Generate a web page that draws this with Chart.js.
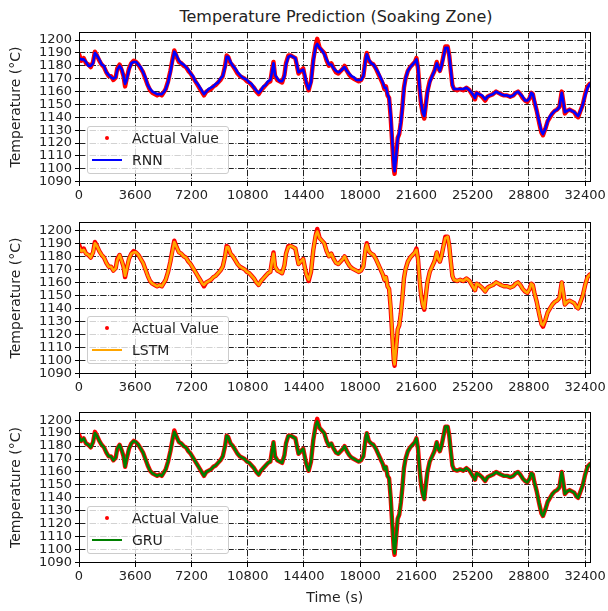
<!DOCTYPE html>
<html>
<head>
<meta charset="utf-8">
<script src="https://cdn.jsdelivr.net/npm/chart.js@4.4.0/dist/chart.umd.min.js"></script>
<style>
  body { margin: 0; background: #fff; width: 608px; height: 611px; position: relative; overflow: hidden; font-family: "DejaVu Sans", sans-serif; }
  canvas { position: absolute; left: 0; }
  #title { position: absolute; top: 7px; left: 79px; width: 514px; text-align: center; font-size: 16px; color: #222; }
  .legend { position: absolute; left: 87px; width: 142px; height: 48px; background: rgba(255,255,255,0.8); border: 1px solid #ccc; border-radius: 3px; box-sizing: border-box; font-size: 14px; color: #222; }
  .legend span { position: absolute; left: 44px; line-height: 16px; }
  .legend .dot { position: absolute; left: 17px; top: 9px; width: 4px; height: 4px; border-radius: 2px; background: #ff0000; }
  .legend .ln { position: absolute; left: 4px; top: 32px; width: 30px; height: 2px; }
</style>
</head>
<body>
<div id="title">Temperature Prediction (Soaking Zone)</div>
<canvas id="rnnChart" width="608" height="206" style="top:0px"></canvas>
<canvas id="lstmChart" width="608" height="198" style="top:200px"></canvas>
<canvas id="gruChart" width="608" height="221" style="top:390px"></canvas>

<div class="legend" style="top:126px"><div class="dot"></div><span style="top:3px">Actual Value</span><div class="ln" style="background:#0000ff"></div><span style="top:25px">RNN</span></div>
<div class="legend" style="top:316px"><div class="dot"></div><span style="top:3px">Actual Value</span><div class="ln" style="background:#ffa500"></div><span style="top:25px">LSTM</span></div>
<div class="legend" style="top:506px"><div class="dot"></div><span style="top:3px">Actual Value</span><div class="ln" style="background:#008000"></div><span style="top:25px">GRU</span></div>

<script>
// time axis (seconds)
const timeSec = [
  0,150,300,450,600,750,900,1020,1150,1300,1450,1600,1750,1900,2050,2200,2350,2450,2600,2750,
  2850,2950,3050,3200,3350,3500,3650,3800,3950,4100,4250,4400,4550,4700,4850,5000,5150,5300,5450,5550,
  5700,5850,6000,6100,6250,6400,6550,6700,6850,7000,7150,7300,7450,7600,7750,7900,8000,8150,8300,8450,
  8600,8750,8900,9050,9200,9350,9450,9550,9700,9850,10000,10150,10300,10450,10600,10750,10900,11050,11200,11350,
  11500,11650,11800,11950,12100,12250,12350,12450,12550,12700,12850,13000,13150,13250,13400,13550,13700,13850,13950,14050,
  14200,14350,14450,14550,14700,14850,15000,15150,15250,15400,15550,15700,15850,16000,16150,16300,16450,16600,16750,16900,
  17000,17150,17300,17450,17600,17750,17900,18050,18200,18350,18420,18550,18700,18850,19000,19150,19300,19450,19550,19650,
  19750,19850,19950,20050,20150,20200,20300,20400,20500,20600,20700,20800,20900,21050,21200,21350,21500,21600,21700,21800,
  21900,22000,22100,22200,22300,22450,22600,22750,22900,23000,23100,23200,23300,23450,23600,23700,23800,23900,24000,24200,
  24400,24600,24800,25000,25200,25350,25450,25600,25800,26000,26150,26300,26500,26700,26850,27000,27200,27400,27600,27800,
  27950,28100,28250,28400,28550,28700,28850,28950,29050,29150,29300,29450,29600,29700,29850,30000,30150,30300,30450,30600,
  30750,30900,31000,31100,31250,31400,31550,31700,31850,31950,32100,32250,32400,32550,32700
];

const actualTemp = [
  1189,1184,1186,1182,1181,1179,1183,1191,1188,1184,1181,1179,1175,1172,1172,1169,1171,1178,1181,1176,
  1172,1164,1170,1178,1182,1184,1183,1181,1178,1175,1170,1165,1161,1159,1158,1157,1158,1157,1160,1162,
  1168,1176,1186,1192,1187,1183,1182,1180,1179,1176,1174,1171,1168,1165,1162,1159,1157,1160,1161,1162,
  1164,1165,1167,1169,1172,1180,1188,1187,1182,1180,1177,1174,1172,1171,1170,1168,1167,1165,1163,1160,
  1158,1161,1163,1165,1167,1168,1176,1183,1172,1169,1168,1167,1173,1182,1188,1188,1187,1186,1180,1174,
  1176,1178,1172,1166,1161,1168,1185,1196,1201,1194,1192,1190,1184,1180,1182,1178,1175,1174,1176,1178,
  1180,1176,1173,1171,1170,1169,1168,1169,1172,1186,1190,1184,1182,1181,1178,1174,1170,1166,1162,1164,
  1157,1155,1140,1120,1100,1096,1110,1124,1127,1136,1148,1163,1170,1176,1179,1181,1183,1186,1178,1162,
  1150,1143,1139,1150,1160,1168,1172,1176,1183,1178,1176,1180,1186,1195,1195,1188,1176,1165,1162,1161,
  1162,1161,1163,1161,1157,1154,1159,1158,1156,1153,1156,1157,1158,1160,1159,1158,1157,1157,1156,1157,
  1159,1160,1158,1155,1153,1152,1155,1159,1158,1152,1145,1136,1128,1126,1131,1137,1140,1143,1145,1146,
  1148,1160,1152,1143,1145,1146,1145,1144,1141,1140,1145,1150,1158,1164,1166
];

const rnnTemp = [
  1186,1185,1185,1183,1180,1180,1182,1190,1188,1185,1181,1180,1175,1173,1171,1170,1171,1177,1180,1177,
  1172,1166,1169,1177,1182,1183,1183,1181,1179,1175,1171,1165,1162,1160,1159,1158,1158,1158,1160,1162,
  1167,1175,1185,1191,1188,1184,1182,1181,1179,1177,1174,1172,1168,1166,1163,1160,1158,1160,1162,1163,
  1164,1166,1167,1170,1172,1179,1187,1187,1183,1180,1178,1175,1173,1171,1170,1169,1167,1166,1163,1161,
  1159,1161,1164,1165,1168,1169,1175,1182,1173,1170,1168,1168,1172,1181,1187,1188,1187,1186,1181,1175,
  1176,1177,1173,1167,1162,1167,1184,1195,1197,1194,1192,1189,1185,1181,1181,1178,1176,1175,1176,1178,
  1179,1176,1174,1172,1171,1169,1169,1169,1172,1185,1189,1185,1182,1181,1178,1175,1171,1167,1163,1163,
  1158,1155,1142,1122,1102,1098,1110,1123,1128,1136,1147,1162,1170,1176,1179,1181,1183,1185,1179,1163,
  1151,1144,1141,1149,1159,1167,1172,1176,1182,1179,1176,1180,1185,1194,1194,1188,1177,1165,1162,1162,
  1162,1162,1163,1161,1158,1155,1159,1158,1157,1154,1156,1157,1158,1160,1159,1158,1157,1157,1156,1157,
  1159,1160,1158,1156,1153,1153,1155,1159,1158,1153,1145,1137,1129,1127,1131,1137,1141,1143,1145,1146,
  1148,1159,1152,1144,1145,1146,1145,1144,1142,1141,1145,1150,1157,1163,1166
];

const lstmTemp = [
  1187,1184,1185,1182,1181,1179,1183,1190,1188,1184,1181,1179,1175,1172,1172,1169,1171,1177,1181,1176,
  1172,1165,1170,1178,1182,1183,1183,1181,1178,1175,1170,1165,1161,1159,1158,1157,1158,1157,1160,1162,
  1168,1176,1185,1191,1187,1183,1182,1180,1179,1176,1174,1171,1168,1165,1162,1159,1158,1160,1161,1162,
  1164,1165,1167,1169,1172,1180,1187,1187,1182,1180,1177,1174,1172,1171,1170,1168,1167,1165,1163,1160,
  1158,1161,1163,1165,1167,1168,1176,1182,1172,1169,1168,1167,1173,1182,1187,1188,1187,1186,1180,1174,
  1176,1178,1172,1166,1162,1168,1185,1196,1199,1194,1192,1190,1184,1180,1182,1178,1175,1174,1176,1178,
  1180,1176,1173,1171,1170,1169,1168,1169,1172,1186,1189,1184,1182,1181,1178,1174,1170,1166,1162,1164,
  1157,1155,1141,1121,1101,1097,1110,1124,1127,1136,1148,1163,1170,1176,1179,1181,1183,1185,1178,1162,
  1150,1143,1140,1150,1160,1168,1172,1176,1183,1178,1176,1180,1186,1194,1195,1188,1176,1165,1162,1161,
  1162,1161,1163,1161,1157,1154,1159,1158,1156,1153,1156,1157,1158,1160,1159,1158,1157,1157,1156,1157,
  1159,1160,1158,1155,1153,1152,1155,1159,1158,1152,1145,1136,1128,1127,1131,1137,1140,1143,1145,1146,
  1148,1160,1152,1143,1145,1146,1145,1144,1141,1140,1145,1150,1158,1164,1166
];

const gruTemp = [
  1187,1184,1186,1182,1181,1179,1183,1190,1188,1184,1181,1179,1175,1172,1172,1169,1171,1178,1181,1176,
  1172,1164,1170,1178,1182,1184,1183,1181,1178,1175,1170,1165,1161,1159,1158,1157,1158,1157,1160,1162,
  1168,1176,1186,1191,1187,1183,1182,1180,1179,1176,1174,1171,1168,1165,1162,1159,1157,1160,1161,1162,
  1164,1165,1167,1169,1172,1180,1188,1187,1182,1180,1177,1174,1172,1171,1170,1168,1167,1165,1163,1160,
  1158,1161,1163,1165,1167,1168,1176,1183,1172,1169,1168,1167,1173,1182,1188,1188,1187,1186,1180,1174,
  1176,1178,1172,1166,1161,1168,1185,1196,1199,1194,1192,1190,1184,1180,1182,1178,1175,1174,1176,1178,
  1180,1176,1173,1171,1170,1169,1168,1169,1172,1186,1190,1184,1182,1181,1178,1174,1170,1166,1162,1164,
  1157,1155,1140,1120,1101,1097,1110,1124,1127,1136,1148,1163,1170,1176,1179,1181,1183,1186,1178,1162,
  1150,1143,1139,1150,1160,1168,1172,1176,1183,1178,1176,1180,1186,1195,1195,1188,1176,1165,1162,1161,
  1162,1161,1163,1161,1157,1154,1159,1158,1156,1153,1156,1157,1158,1160,1159,1158,1157,1157,1156,1157,
  1159,1160,1158,1155,1153,1152,1155,1159,1158,1152,1145,1136,1128,1126,1131,1137,1140,1143,1145,1146,
  1148,1160,1152,1143,1145,1146,1145,1144,1141,1140,1145,1150,1158,1164,1166
];

// tick labels
const xTicks = [0, 3600, 7200, 10800, 14400, 18000, 21600, 25200, 28800, 32400];
const yTicks = [1090, 1100, 1110, 1120, 1130, 1140, 1150, 1160, 1170, 1180, 1190, 1200];

const FONT = 'DejaVu Sans';
const gridDash = [6.4, 1.6, 1, 1.6];

// black box round the plot area
const framePlugin = {
  id: 'frame',
  afterDatasetsDraw(chart) {
    const a = chart.chartArea, c = chart.ctx;
    c.save();
    c.strokeStyle = '#000';
    c.lineWidth = 1;
    c.strokeRect(Math.round(a.left) + 0.5, Math.round(a.top) + 0.5,
      Math.round(a.right - a.left) - 1, Math.round(a.bottom - a.top) - 1);
    c.restore();
  }
};

function toPoints(values) {
  return timeSec.map((t, i) => ({ x: t, y: values[i] }));
}

function makePanel(id, label, values, color, padTop, xHeight, showXTitle) {
  new Chart(document.getElementById(id).getContext('2d'), {
    type: 'line',
    data: {
      datasets: [
        { label: label, data: toPoints(values), borderColor: color, borderWidth: 2.6,
          pointRadius: 0, tension: 0, borderJoinStyle: 'round', borderCapStyle: 'round' },
        { label: 'Actual Value', data: toPoints(actualTemp), borderColor: '#ff0000', borderWidth: 4.4,
          pointRadius: 0, tension: 0, borderJoinStyle: 'round', borderCapStyle: 'round' }
      ]
    },
    options: {
      responsive: false,
      animation: false,
      devicePixelRatio: 1,
      layout: { padding: { top: padTop, right: 15, left: 0, bottom: 0 } },
      plugins: { legend: { display: false }, tooltip: { enabled: false } },
      scales: {
        x: {
          type: 'linear', min: 0, max: 32744,
          afterBuildTicks: s => { s.ticks = xTicks.map(v => ({ value: v })); },
          afterFit: s => { s.height = xHeight; },
          ticks: { color: '#222', font: { family: FONT, size: 13 }, padding: 2, maxRotation: 0,
                   autoSkip: false, callback: v => String(v) },
          grid: { color: '#222', lineWidth: 1, tickLength: 4,
                  tickColor: '#000', tickBorderDash: [] },
          border: { display: false, dash: gridDash },
          title: { display: showXTitle, text: 'Time (s)', color: '#222',
                   font: { family: FONT, size: 14 }, padding: { top: 2, bottom: 4 } }
        },
        y: {
          min: 1089.7, max: 1206.3,
          afterBuildTicks: s => { s.ticks = yTicks.map(v => ({ value: v })); },
          afterFit: s => { s.width = 79; },
          ticks: { color: '#222', font: { family: FONT, size: 13 }, padding: 3,
                   autoSkip: false, callback: v => String(v) },
          grid: { color: '#222', lineWidth: 1, tickLength: 4,
                  tickColor: '#000', tickBorderDash: [] },
          border: { display: false, dash: gridDash },
          title: { display: true, text: 'Temperature (°C)', color: '#222',
                   font: { family: FONT, size: 14 }, padding: { top: 8, bottom: 0 } }
        }
      }
    },
    plugins: [framePlugin]
  });
}

makePanel('rnnChart', 'RNN', rnnTemp, '#0000ff', 32, 24, false);
makePanel('lstmChart', 'LSTM', lstmTemp, '#ffa500', 22, 24, false);
makePanel('gruChart', 'GRU', gruTemp, '#008000', 22, 48, true);
</script>
</body>
</html>
